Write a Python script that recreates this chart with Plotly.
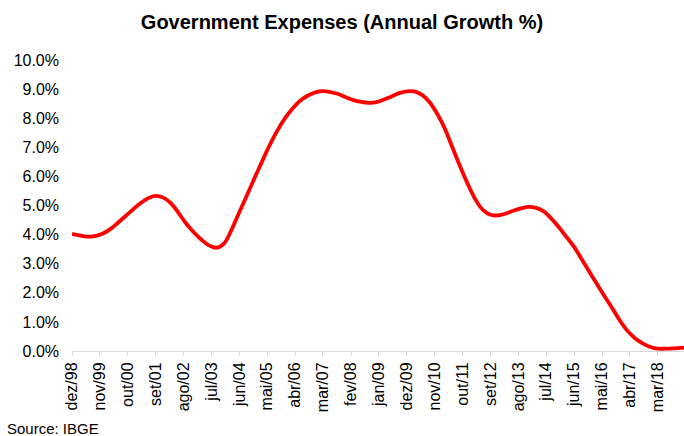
import pandas as pd
import plotly.graph_objects as go

# Quarterly annual growth (%) of government expenses, Dec/1998 onward
growth = [4.03, 3.97, 3.93, 3.95, 4.03, 4.18, 4.40, 4.63, 4.86, 5.08,
          5.25, 5.33, 5.27, 5.08, 4.75, 4.38, 4.08, 3.83, 3.63, 3.55,
          3.70, 4.18, 4.78, 5.36, 5.95, 6.52, 7.08, 7.58, 8.00, 8.33,
          8.60, 8.78, 8.89, 8.93, 8.90, 8.83, 8.72, 8.62, 8.56, 8.53,
          8.55, 8.64, 8.75, 8.86, 8.92, 8.92, 8.80, 8.55, 8.15, 7.65,
          7.00, 6.35, 5.75, 5.22, 4.85, 4.68, 4.66, 4.72, 4.82, 4.90,
          4.95, 4.92, 4.80, 4.55, 4.25, 3.92, 3.58, 3.15, 2.72, 2.30,
          1.88, 1.47, 1.05, 0.70, 0.44, 0.26, 0.14, 0.08, 0.08, 0.09,
          0.11, 0.12]
dates = pd.date_range("1998-12-01", periods=len(growth), freq="3MS")

tick_dates = ["1998-12-01", "1999-11-01", "2000-10-01", "2001-09-01", "2002-08-01",
              "2003-07-01", "2004-06-01", "2005-05-01", "2006-04-01", "2007-03-01",
              "2008-02-01", "2009-01-01", "2009-12-01", "2010-11-01", "2011-10-01",
              "2012-09-01", "2013-08-01", "2014-07-01", "2015-06-01", "2016-05-01",
              "2017-04-01", "2018-03-01"]
tick_labels = ["dez/98", "nov/99", "out/00", "set/01", "ago/02", "jul/03", "jun/04",
               "mai/05", "abr/06", "mar/07", "fev/08", "jan/09", "dez/09", "nov/10",
               "out/11", "set/12", "ago/13", "jul/14", "jun/15", "mai/16", "abr/17",
               "mar/18"]
y_ticks = [0, 1, 2, 3, 4, 5, 6, 7, 8, 9, 10]

FONT = "Liberation Sans, Arial, sans-serif"

fig = go.Figure()
fig.add_trace(go.Scatter(
    x=dates, y=growth, mode="lines",
    line=dict(color="#ff0000", width=3.8, shape="spline", smoothing=1.0),
    hoverinfo="skip", showlegend=False,
))

fig.update_layout(
    width=684, height=436,
    margin=dict(l=72, r=0, t=60, b=85, autoexpand=False),
    paper_bgcolor="white", plot_bgcolor="white",
    font=dict(family=FONT, size=16, color="#000000"),
    title=dict(text="<b>Government Expenses (Annual Growth %)</b>",
               x=0.5, xref="container", xanchor="center",
               y=1 - 22 / 436, yref="container", yanchor="middle",
               font=dict(family=FONT, size=20, color="#000000")),
    xaxis=dict(
        type="date", range=["1998-12-01", "2019-01-10"], automargin=False,
        tickvals=tick_dates, ticktext=tick_labels, tickangle=-90,
        ticks="outside", ticklen=4, tickcolor="#d9d9d9", tickwidth=1,
        showline=True, linecolor="#d9d9d9", linewidth=1,
        showgrid=False, zeroline=False,
        tickfont=dict(family=FONT, size=16, color="#000000"),
    ),
    yaxis=dict(
        range=[0, 10], tickvals=y_ticks, automargin=False,
        ticktext=[f"{v:.1f}%" for v in y_ticks],
        showgrid=False, zeroline=False, showline=False, ticks="",
        ticklabelstandoff=12,
        tickfont=dict(family=FONT, size=16, color="#000000"),
    ),
    annotations=[dict(
        text="Source: IBGE", xref="paper", yref="paper", x=0, y=0,
        xanchor="left", yanchor="middle", xshift=-67, yshift=-77,
        showarrow=False, font=dict(family=FONT, size=15, color="#000000"),
    )],
)

fig.write_html("out.html",
               config={"displayModeBar": False},
               post_script="document.body.style.margin='0px';"
                           "document.body.style.overflow='hidden';")
